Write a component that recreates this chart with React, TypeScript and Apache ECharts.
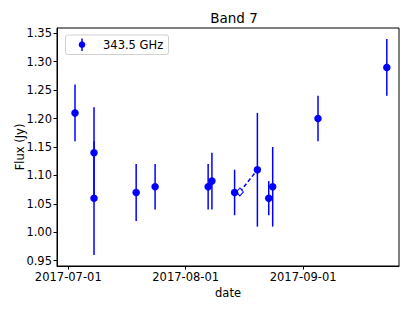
import React, { useEffect, useRef } from "react";
import * as echarts from "echarts";

const dates = [
  "2017-07-02T18:30:00Z",
  "2017-07-07T19:00:00Z",
  "2017-07-07T19:00:00Z",
  "2017-07-18T22:00:00Z",
  "2017-07-23T22:00:00Z",
  "2017-08-06T22:00:00Z",
  "2017-08-07T22:00:00Z",
  "2017-08-13T21:40:00Z",
  "2017-08-19T22:00:00Z",
  "2017-08-22T22:00:00Z",
  "2017-08-23T23:00:00Z",
  "2017-09-04T22:00:00Z",
  "2017-09-23T02:00:00Z",
];
const flux = [1.21, 1.14, 1.06, 1.07, 1.08, 1.08, 1.09, 1.07, 1.11, 1.06, 1.08, 1.2, 1.29];
const fluxErr = [0.05, 0.08, 0.1, 0.05, 0.04, 0.04, 0.05, 0.04, 0.1, 0.03, 0.07, 0.04, 0.05];

const linkDates = ["2017-08-15T07:00:00Z", "2017-08-19T22:00:00Z"];
const linkFlux = [1.071, 1.11];

const xTickDates = ["2017-07-01T00:00:00Z", "2017-08-01T00:00:00Z", "2017-09-01T00:00:00Z"];
const yTicks = [0.95, 1.0, 1.05, 1.1, 1.15, 1.2, 1.25, 1.3, 1.35];

const legendLabel = "343.5 GHz";
const seriesColor = "#0000ff";
const DAY = 86400000;

const ts = (s: string) => new Date(s).getTime();
const pad = (n: number) => (n < 10 ? "0" + n : "" + n);
const fmtDate = (v: number) => {
  const d = new Date(v);
  return d.getUTCFullYear() + "-" + pad(d.getUTCMonth() + 1) + "-" + pad(d.getUTCDate());
};

export default function App() {
  const ref = useRef<HTMLDivElement>(null);
  useEffect(() => {
    document.body.style.margin = "0";
    const chart = echarts.init(ref.current!, null, { renderer: "svg" });
    const font = "DejaVu Sans";
    const fs = 11.5;
    const points = dates.map((d, i) => [ts(d), flux[i]]);
    const bars = dates.map((d, i) => [ts(d), flux[i], fluxErr[i]]);
    const jul1 = ts(xTickDates[0]);
    chart.setOption({
      animation: false,
      textStyle: { fontFamily: font },
      title: {
        text: "Band 7",
        left: 229,
        textAlign: "center",
        top: 6,
        textStyle: { fontFamily: font, fontSize: 13.5, fontWeight: "normal", color: "#000" },
      },
      grid: {
        left: 57,
        right: 16,
        top: 28,
        bottom: 45,
        containLabel: false,
        outerBoundsMode: "none",
        show: true,
        borderColor: "#000",
        borderWidth: 1,
        backgroundColor: "transparent",
      },
      xAxis: {
        type: "value",
        min: jul1 - 2.98 * DAY,
        max: jul1 + 87.3 * DAY,
        name: "date",
        nameLocation: "middle",
        nameGap: 21,
        nameMoveOverlap: false,
        nameTextStyle: { fontFamily: font, fontSize: fs, color: "#000" },
        splitLine: { show: false },
        axisLine: { show: true, onZero: false, lineStyle: { color: "#000", width: 1 } },
        axisTick: { show: true, length: 3.5, customValues: xTickDates.map(ts), lineStyle: { color: "#000" } },
        axisLabel: {
          customValues: xTickDates.map(ts),
          formatter: (v: number) => fmtDate(v),
          fontFamily: font,
          fontSize: fs,
          color: "#000",
          margin: 5,
        },
      },
      yAxis: {
        type: "value",
        min: 0.9407,
        max: 1.3593,
        name: "Flux (Jy)",
        nameLocation: "middle",
        nameGap: 31,
        nameMoveOverlap: false,
        nameTextStyle: { fontFamily: font, fontSize: fs, color: "#000" },
        splitLine: { show: false },
        axisLine: { show: true, onZero: false, lineStyle: { color: "#000", width: 1 } },
        axisTick: { show: true, length: 3.5, customValues: yTicks, lineStyle: { color: "#000" } },
        axisLabel: {
          customValues: yTicks,
          formatter: (v: number) => v.toFixed(2),
          fontFamily: font,
          fontSize: fs,
          color: "#000",
          margin: 5,
        },
      },
      graphic: [
        {
          type: "rect",
          x: 65.5,
          y: 35,
          shape: { width: 103, height: 19.5, r: 2 },
          style: { fill: "#fff", stroke: "#d0d0d0", lineWidth: 1 },
          z: 100,
        },
        {
          type: "line",
          shape: { x1: 82, y1: 38.5, x2: 82, y2: 51 },
          style: { stroke: seriesColor, lineWidth: 1.5 },
          z: 101,
        },
        {
          type: "circle",
          shape: { cx: 82, cy: 44.7, r: 3.3 },
          style: { fill: seriesColor },
          z: 101,
        },
        {
          type: "text",
          x: 103,
          y: 45,
          style: { text: legendLabel, fontFamily: font, fontSize: fs, fill: "#000", verticalAlign: "middle" },
          z: 101,
        },
      ],
      series: [
        {
          type: "custom",
          data: bars,
          encode: { x: 0, y: 1 },
          renderItem: (params: any, api: any) => {
            const x = api.value(0);
            const v = api.value(1);
            const e = api.value(2);
            const p1 = api.coord([x, v - e]);
            const p2 = api.coord([x, v + e]);
            return {
              type: "line",
              shape: { x1: p1[0], y1: p1[1], x2: p2[0], y2: p2[1] },
              style: { stroke: seriesColor, lineWidth: 1.5 },
            };
          },
          z: 2,
        },
        {
          type: "line",
          data: [
            { value: [ts(linkDates[0]), linkFlux[0]], symbol: "diamond", symbolSize: [7, 8] },
            { value: [ts(linkDates[1]), linkFlux[1]], symbol: "none" },
          ],
          lineStyle: { color: seriesColor, width: 1.5, type: [4, 2.5] },
          itemStyle: { color: "#fff", borderColor: seriesColor, borderWidth: 1 },
          z: 2,
        },
        {
          type: "scatter",
          data: points,
          symbol: "circle",
          symbolSize: 7.5,
          itemStyle: { color: seriesColor, opacity: 1 },
          z: 3,
        },
      ],
    });
    return () => chart.dispose();
  }, []);
  return <div ref={ref} style={{ width: 415, height: 311 }} />;
}
